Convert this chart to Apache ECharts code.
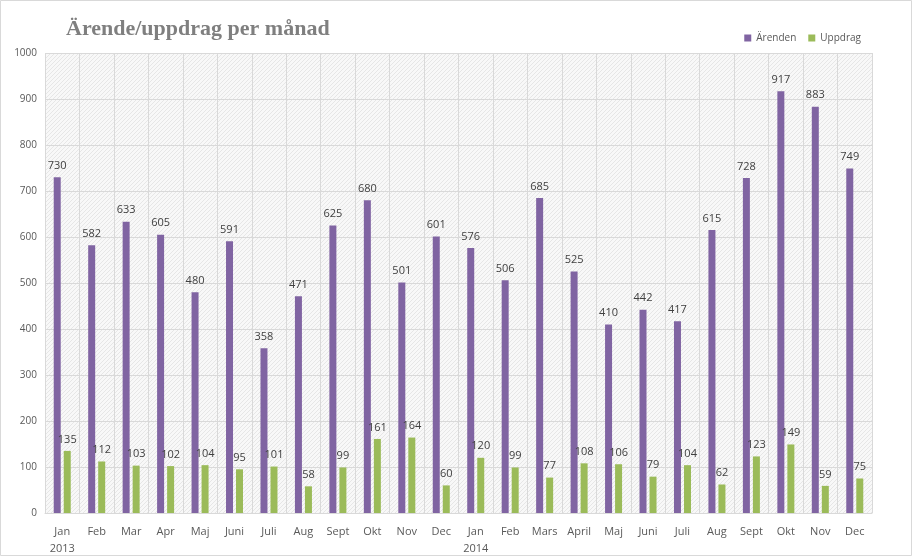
<!DOCTYPE html>
<html><head><meta charset="utf-8">
<script src="https://cdn.jsdelivr.net/npm/echarts@6/dist/echarts.min.js"></script>
<style>html,body{margin:0;padding:0;background:#fff}#c{width:913px;height:557px}</style>
</head><body><div id="c"></div>
<script>
const months = ['Jan','Feb','Mar','Apr','Maj','Juni','Juli','Aug','Sept','Okt','Nov','Dec','Jan','Feb','Mars','April','Maj','Juni','Juli','Aug','Sept','Okt','Nov','Dec'];
const years = ['2013','','','','','','','','','','','','2014','','','','','','','','','','',''];
const arenden = [730,582,633,605,480,591,358,471,625,680,501,601,576,506,685,525,410,442,417,615,728,917,883,749];
const uppdrag = [135,112,103,102,104,95,101,58,99,161,164,60,120,99,77,108,106,79,104,62,123,149,59,75];
const categories = months.map((m,i)=> years[i] ? m + '\n' + years[i] : m);

const pc = document.createElement('canvas');
pc.width = 4; pc.height = 4;
const g = pc.getContext('2d');
g.fillStyle = '#f8f8f8'; g.fillRect(0,0,4,4);
g.fillStyle = '#e6e6e6';
for (let i=0;i<4;i++){ g.fillRect(3-i, i, 1, 1); }

const chart = echarts.init(document.getElementById('c'), null, {renderer:'canvas'});
const lblFont = {fontFamily:'Open Sans', fontSize:11, color:'#404040'};
chart.setOption({
  animation:false,
  backgroundColor:'#fff',
  title:{text:'Ärende/uppdrag per månad', left:61, top:13,
    textStyle:{fontFamily:'Liberation Serif', fontWeight:'bold', fontSize:22, color:'#7f7f7f'}},
  legend:{right:47, top:28, itemWidth:7, itemHeight:7, itemGap:12, icon:'rect',
    textStyle:{fontFamily:'Open Sans', fontSize:10, color:'#595959'},
    data:['Ärenden','Uppdrag']},
  grid:{left:45, right:41, top:53, bottom:42, show:true, borderWidth:0,
    backgroundColor:{image:pc, repeat:'repeat'}},
  xAxis:{type:'category', data:categories,
    axisLine:{lineStyle:{color:'#d9d9d9'}}, axisTick:{show:false},
    splitLine:{show:true, lineStyle:{color:'#d9d9d9'}},
    axisLabel:{interval:0, margin:10, lineHeight:17, ...lblFont, color:'#595959'}},
  yAxis:{type:'value', min:0, max:1000, interval:100,
    axisLine:{show:false}, axisTick:{show:false},
    splitLine:{lineStyle:{color:'#d9d9d9'}},
    axisLabel:{margin:8, fontFamily:'Open Sans', fontSize:10, color:'#595959', formatter:v=>String(v)}},
  series:[
    {name:'Ärenden', type:'bar', data:arenden, barWidth:7, barGap:'43%',
      itemStyle:{color:'#8064a2'},
      label:{show:true, position:'top', distance:6, ...lblFont}},
    {name:'Uppdrag', type:'bar', data:uppdrag, barWidth:7,
      itemStyle:{color:'#9bbb59'},
      label:{show:true, position:'top', distance:6, ...lblFont}}
  ],
  graphic:[{type:'rect', shape:{x:0.5,y:0.5,width:911,height:555}, style:{fill:null, stroke:'#d9d9d9', lineWidth:1}, silent:true}]
});
</script></body></html>
